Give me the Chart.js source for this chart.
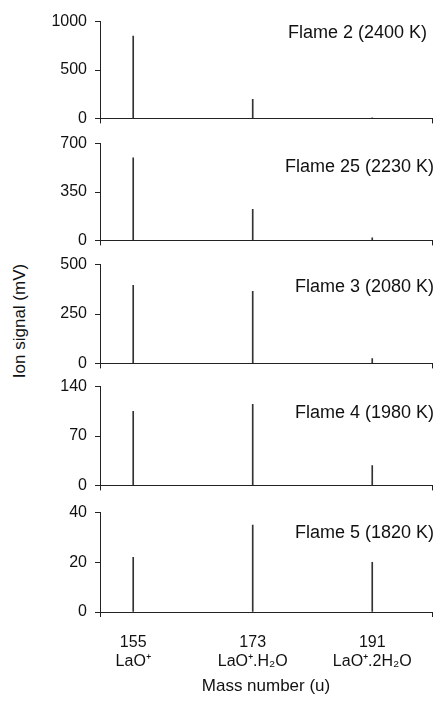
<!DOCTYPE html>
<html>
<head>
<meta charset="utf-8">
<script src="https://cdn.jsdelivr.net/npm/chart.js@4.4.1/dist/chart.umd.min.js"></script>
<style>
  body { margin: 0; background: #fff; }
  #wrap { position: relative; width: 440px; height: 705px; overflow: hidden; font-family: "Liberation Sans", Arial, sans-serif; }
  canvas { position: absolute; left: 0; }
  #ytitle {
    position: absolute; left: 20px; top: 321px;
    transform: translate(-50%, -50%) rotate(-90deg);
    font-size: 17px; color: #111; white-space: nowrap;
  }
</style>
</head>
<body>
<div id="wrap">
  <div id="ytitle">Ion signal (mV)</div>
</div>
<script>
// ======== DATA ========
const masses = [155, 173, 191];
const species = ['LaO⁺', 'LaO⁺.H₂O', 'LaO⁺.2H₂O'];
const flameNames = ['Flame 2 (2400 K)', 'Flame 25 (2230 K)', 'Flame 3 (2080 K)', 'Flame 4 (1980 K)', 'Flame 5 (1820 K)'];
const yMax = [1000, 700, 500, 140, 40];
const flame2 = [850, 198, 3];
const flame25 = [598, 225, 18];
const flame3 = [395, 365, 25];
const flame4 = [105, 115, 28];
const flame5 = [22, 35, 20];
const signals = [flame2, flame25, flame3, flame4, flame5];

// ======== LAYOUT ========
// chart area top / bottom of every panel (px)
const panelTop = [22, 144, 265, 387, 513];
const panelBottom = [119, 241, 364, 486, 612];
// label right edge and offset below the panel top
const labelRight = [427, 434, 434, 434, 434];
const labelDy = [11, 23, 22, 26, 20];

const ink = '#222';
const tickFont = { family: '"Liberation Sans", Arial, sans-serif', size: 16 };
const titleFont = { family: '"Liberation Sans", Arial, sans-serif', size: 17 };

const flameLabel = {
    id: 'flameLabel',
    afterDraw(chart, args, opts) {
        const ctx = chart.ctx;
        ctx.save();
        ctx.font = '18px "Liberation Sans", Arial, sans-serif';
        ctx.fillStyle = '#111';
        ctx.textAlign = 'right';
        ctx.textBaseline = 'middle';
        ctx.fillText(opts.text, opts.right, chart.chartArea.top + opts.dy);
        ctx.restore();
    }
};

function makeChart(canvas, i, last) {
    const vals = signals[i];
    return new Chart(canvas.getContext('2d'), {
        type: 'bar',
        data: {
            datasets: [{
                data: masses.map((m, k) => ({ x: m, y: vals[k] })),
                backgroundColor: '#333',
                borderWidth: 0,
                barThickness: 1
            }]
        },
        plugins: [flameLabel],
        options: {
            responsive: false,
            maintainAspectRatio: false,
            animation: false,
            devicePixelRatio: 1,
            layout: { padding: { top: 12, right: 8, left: 0, bottom: 0 } },
            plugins: {
                legend: { display: false },
                tooltip: { enabled: false },
                flameLabel: { text: flameNames[i], right: labelRight[i], dy: labelDy[i] }
            },
            scales: {
                x: {
                    type: 'linear',
                    offset: false,
                    min: 150,
                    max: 200,
                    afterBuildTicks: function(scale) {
                        scale.ticks = [150].concat(masses, [200]).map(v => ({ value: v }));
                    },
                    afterFit: function(scale) {
                        scale.height = last ? 705 - panelBottom[i] : 8;
                        // the end ticks carry no label, so no side padding is needed
                        scale.paddingLeft = 0;
                        scale.paddingRight = 0;
                    },
                    border: { display: true, color: ink, width: 1 },
                    grid: {
                        offset: false,
                        drawOnChartArea: false,
                        tickLength: 5,
                        color: function(c) {
                            return (c.tick && (c.tick.value === 150 || c.tick.value === 200)) ? ink : 'rgba(0,0,0,0)';
                        }
                    },
                    ticks: {
                        display: last,
                        autoSkip: false,
                        maxRotation: 0,
                        padding: 16,
                        color: '#111',
                        font: tickFont,
                        callback: function(value) {
                            const k = masses.indexOf(value);
                            return k < 0 ? '' : [String(value), species[k]];
                        }
                    },
                    title: {
                        display: last,
                        text: 'Mass number (u)',
                        color: '#111',
                        font: titleFont,
                        padding: { top: 0, bottom: 8 }
                    }
                },
                y: {
                    min: 0,
                    max: yMax[i],
                    afterFit: function(scale) {
                        scale.width = 100;
                    },
                    border: { display: true, color: ink, width: 1 },
                    grid: { drawOnChartArea: false, tickLength: 5, color: ink },
                    ticks: {
                        stepSize: yMax[i] / 2,
                        padding: 8,
                        color: '#111',
                        font: tickFont,
                        callback: function(value) { return String(value); }
                    }
                }
            }
        }
    });
}

const wrap = document.getElementById('wrap');

signals.forEach((vals, i) => {
    const last = i === signals.length - 1;
    const canvas = document.createElement('canvas');
    let height = last ? 705 - panelTop[i] + 12 : (panelBottom[i] - panelTop[i]) + 30;
    canvas.width = 440;
    canvas.height = height;
    wrap.appendChild(canvas);

    // first pass: measure the plot area, then fix the canvas height so it matches
    let chart = makeChart(canvas, i, last);
    const want = panelBottom[i] - panelTop[i];
    const got = chart.chartArea.bottom - chart.chartArea.top;
    if (Math.abs(want - got) > 0.5) {
        chart.destroy();
        height = Math.round(height + want - got);
        canvas.width = 440;
        canvas.height = height;
        chart = makeChart(canvas, i, last);
    }
    canvas.style.top = Math.round(panelTop[i] - chart.chartArea.top) + 'px';
});
</script>
</body>
</html>
